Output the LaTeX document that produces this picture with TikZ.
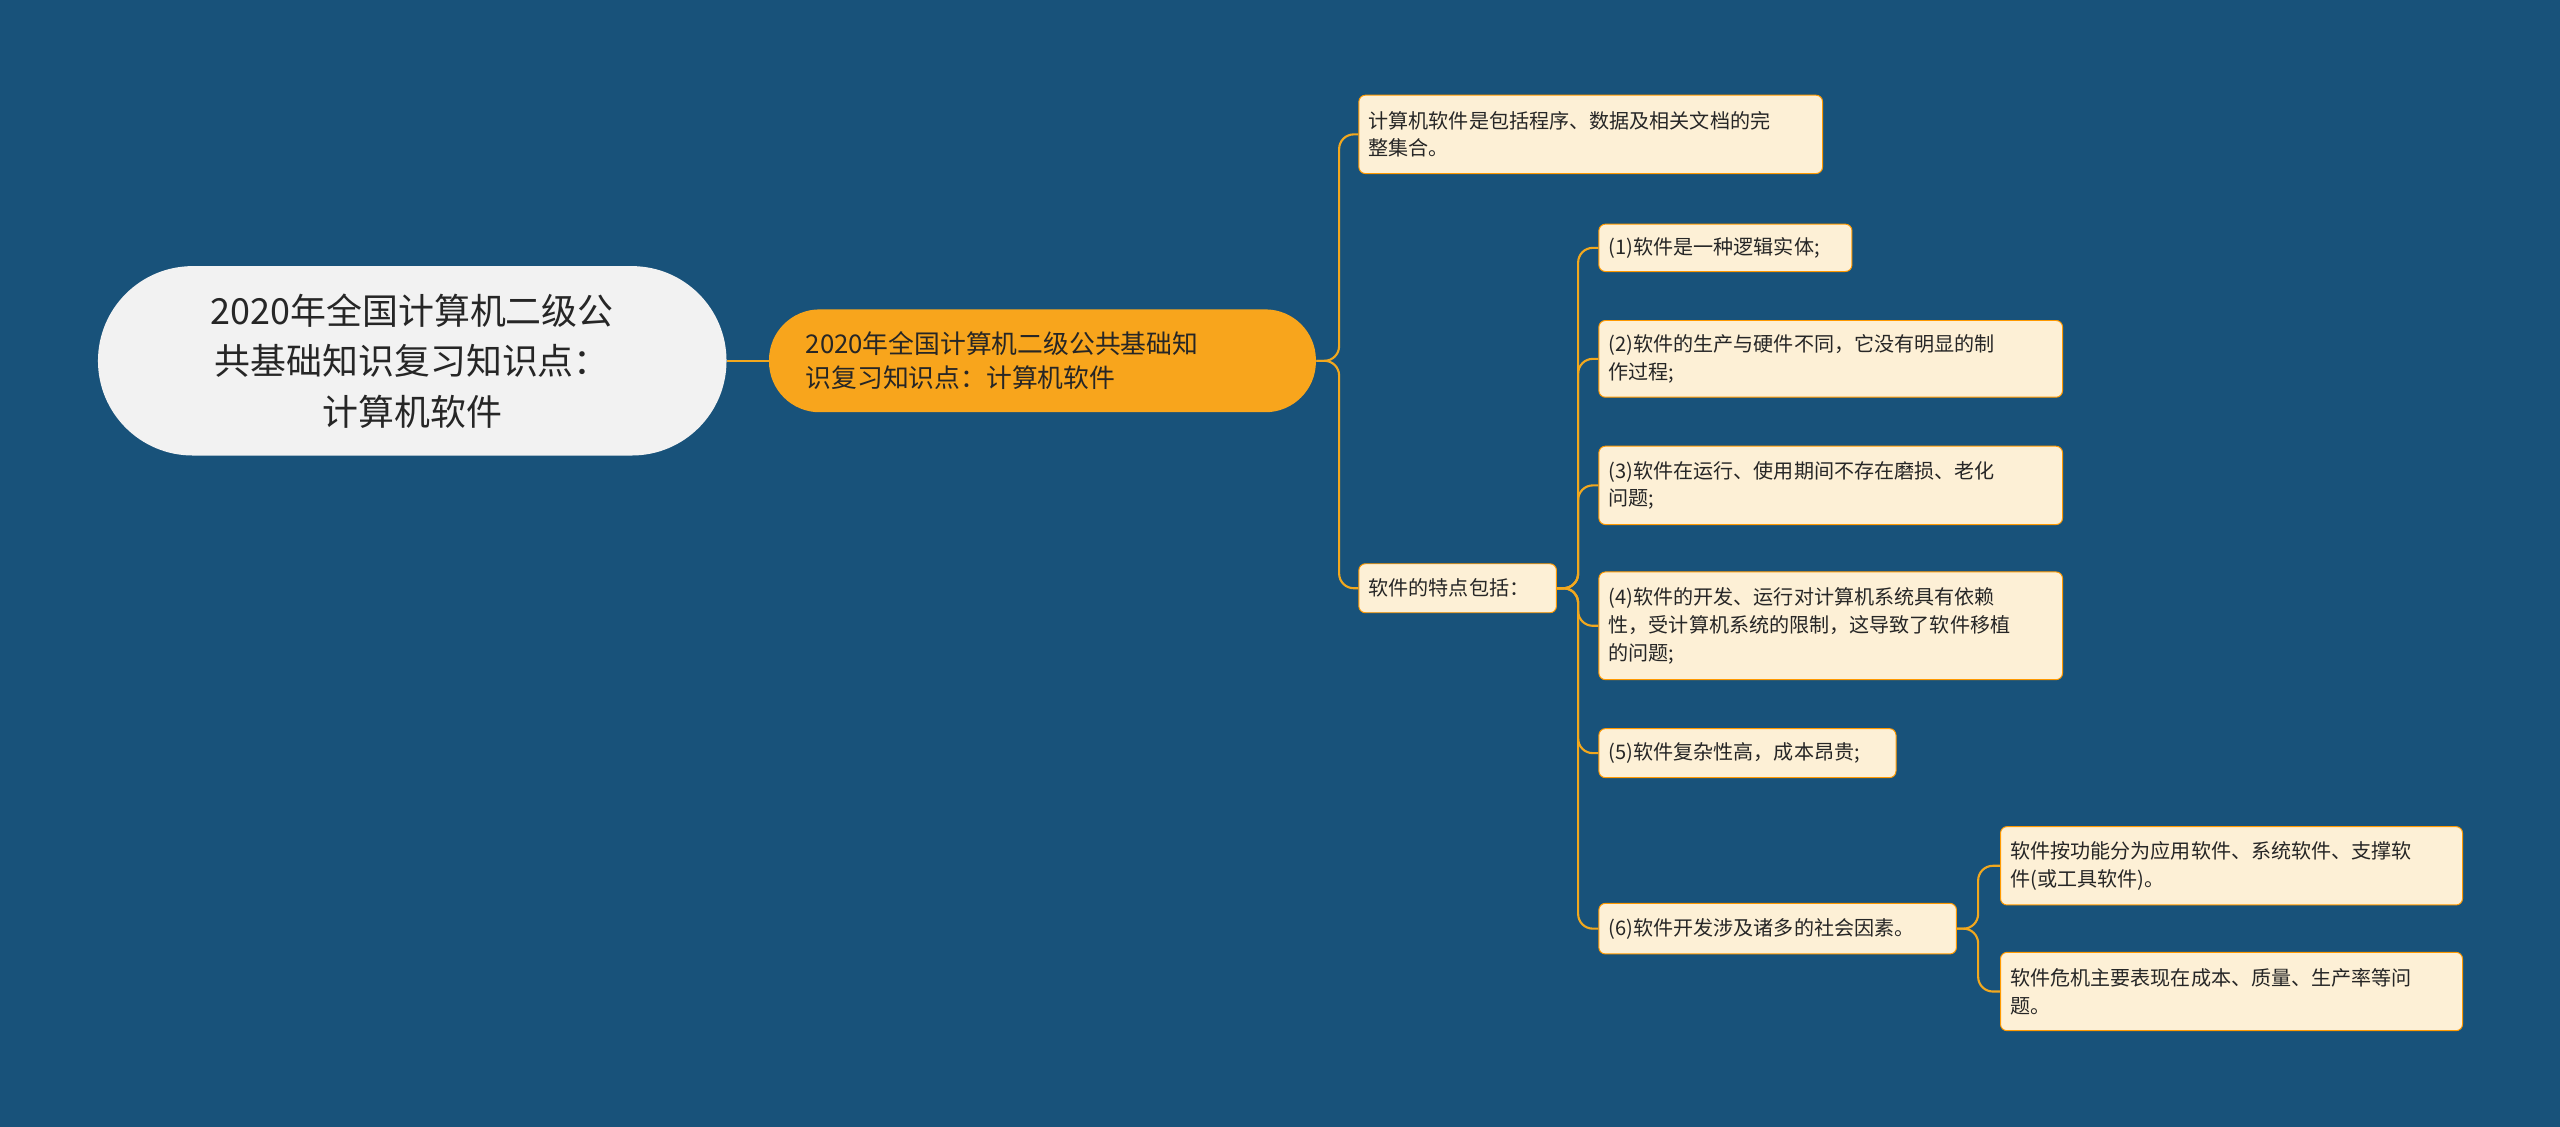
\documentclass[tikz,border=0pt]{standalone}
\usepackage{fontspec}
\setmainfont{Noto Sans CJK SC}
\begin{document}
\begin{tikzpicture}[x=1pt,y=-1pt,
  leaf/.style={draw=orange!80!yellow,line width=0.6pt,fill=leafc,rounded corners=4pt,anchor=north west,align=left,font=\fontsize{12.3}{17}\selectfont,text=black!85,inner xsep=6pt,inner ysep=5pt},
  conn/.style={draw=linec,line width=1.3pt,rounded corners=9pt}]
\definecolor{bg}{HTML}{18527A}
\definecolor{leafc}{HTML}{FDF0D6}
\definecolor{linec}{HTML}{F2A81E}
\definecolor{mainc}{HTML}{F8A51C}
\fill[bg] (0,0) rectangle (1568,690);
\useasboundingbox (0,0) rectangle (1568,690);
\node[fill=black!5,rounded corners=58pt,minimum width=385pt,minimum height=116pt,align=center,font=\fontsize{22}{31}\selectfont,text=black!85] (root) at (252.5,221) {2020年全国计算机二级公\\共基础知识复习知识点：\\计算机软件};
\node[fill=mainc,rounded corners=31pt,minimum width=335pt,minimum height=63pt,text width=290pt,align=left,font=\fontsize{15.8}{21}\selectfont,text=black!85] (main) at (638.5,221) {2020年全国计算机二级公共基础知\\识复习知识点：计算机软件};
\node[leaf,text width=272pt,minimum height=48pt] (a) at (832,58) {计算机软件是包括程序、数据及相关文档的完\\整集合。};
\node[leaf,text width=109pt,minimum height=30pt] (b) at (832,345) {软件的特点包括：};
\node[leaf,text width=143pt,minimum height=29pt] (b1) at (979,137) {(1)软件是一种逻辑实体;};
\node[leaf,text width=272pt,minimum height=47pt] (b2) at (979,196) {(2)软件的生产与硬件不同，它没有明显的制\\作过程;};
\node[leaf,text width=272pt,minimum height=48pt] (b3) at (979,273) {(3)软件在运行、使用期间不存在磨损、老化\\问题;};
\node[leaf,text width=272pt,minimum height=66pt] (b4) at (979,350) {(4)软件的开发、运行对计算机系统具有依赖\\性，受计算机系统的限制，这导致了软件移植\\的问题;};
\node[leaf,text width=170pt,minimum height=30pt] (b5) at (979,446) {(5)软件复杂性高，成本昂贵;};
\node[leaf,text width=207pt,minimum height=31pt] (b6) at (979,553) {(6)软件开发涉及诸多的社会因素。};
\node[leaf,text width=271pt,minimum height=48pt] (c1) at (1225,506) {软件按功能分为应用软件、系统软件、支撑软\\件(或工具软件)。};
\node[leaf,text width=271pt,minimum height=48pt] (c2) at (1225,583) {软件危机主要表现在成本、质量、生产率等问\\题。};
\draw[conn] (root.east) -- (main.west);
\foreach \c in {a,b} \draw[conn] (main.east) -- ++(14,0) |- (\c.west);
\foreach \c in {b1,b2,b3,b4,b5,b6} \draw[conn] (b.east) -- ++(13,0) |- (\c.west);
\foreach \c in {c1,c2} \draw[conn] (b6.east) -- ++(13,0) |- (\c.west);
\end{tikzpicture}
\end{document}
